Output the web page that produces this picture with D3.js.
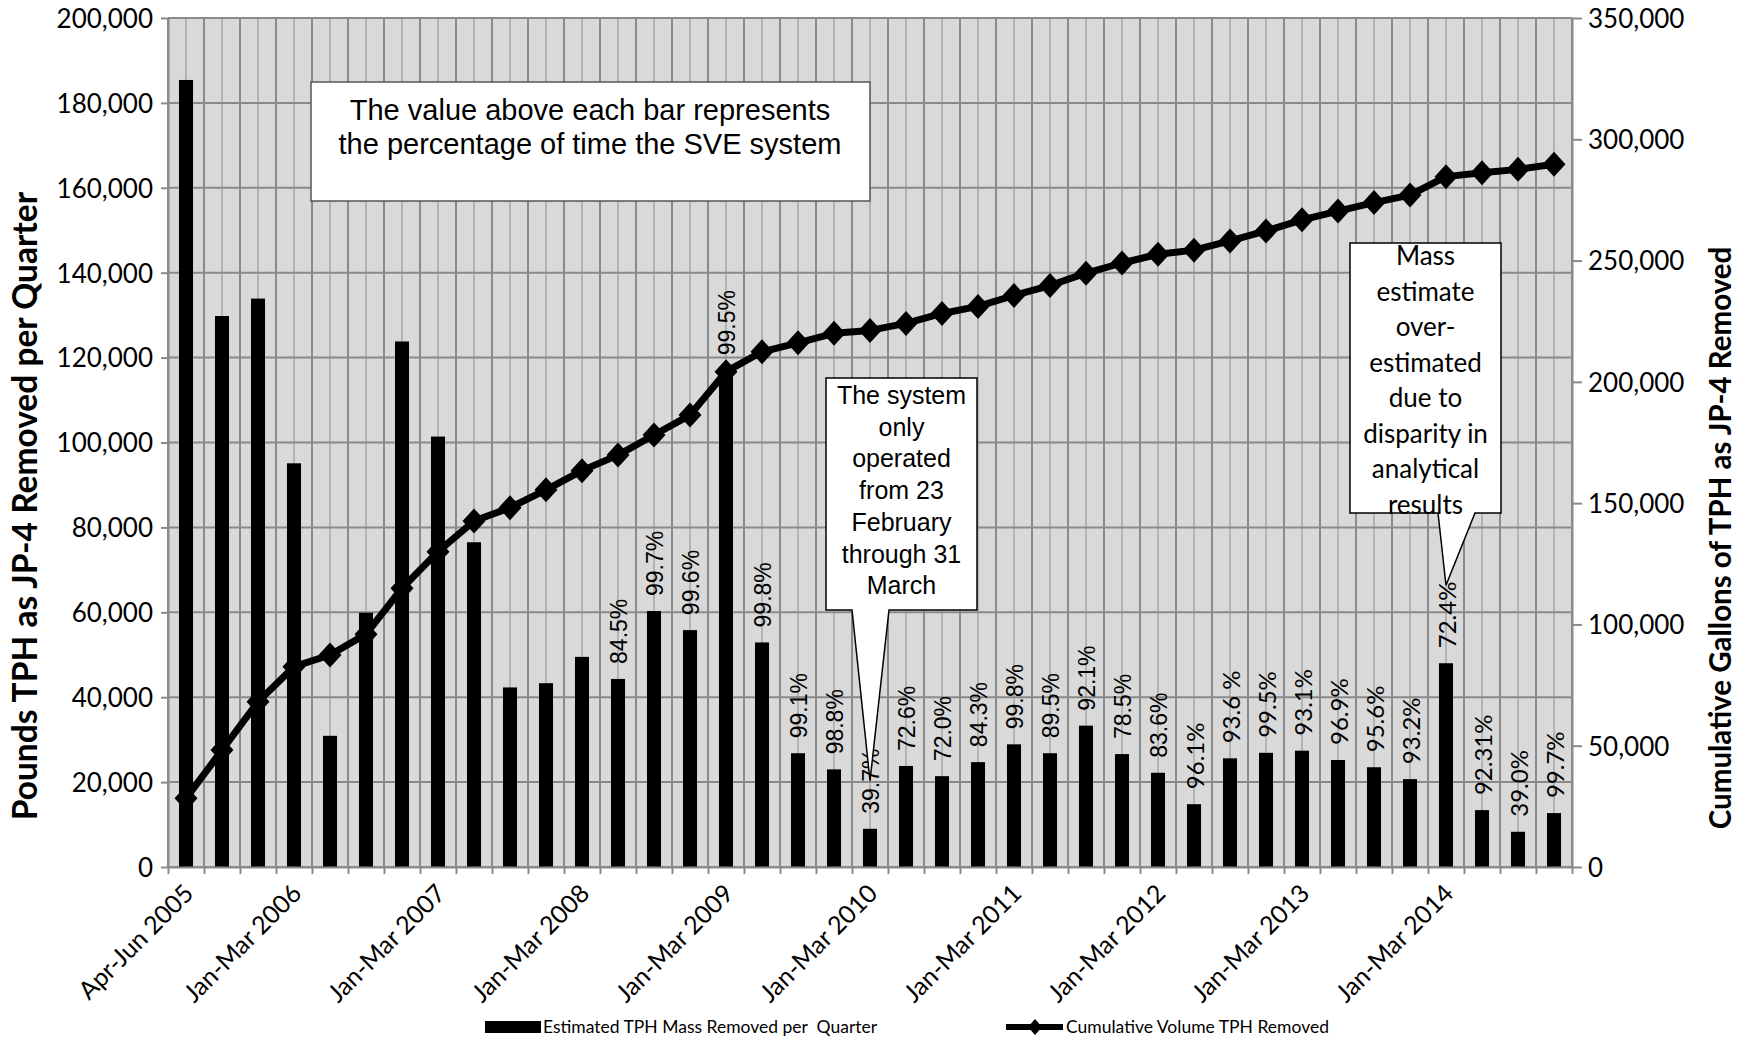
<!DOCTYPE html>
<html>
<head>
<meta charset="utf-8">
<script src="https://cdn.jsdelivr.net/npm/d3@7"></script>
<style>
  body { margin: 0; background: #ffffff; }
  svg { display: block; }
  .tick text { fill: #000; }
</style>
</head>
<body>
<svg id="chart" width="1750" height="1037"></svg>
<script>
// Quarterly SVE system performance, Apr-Jun 2005 through Oct-Dec 2014
const quarters = [
  "Apr-Jun 2005", "Jul-Sep 2005", "Oct-Dec 2005",
  "Jan-Mar 2006", "Apr-Jun 2006", "Jul-Sep 2006", "Oct-Dec 2006",
  "Jan-Mar 2007", "Apr-Jun 2007", "Jul-Sep 2007", "Oct-Dec 2007",
  "Jan-Mar 2008", "Apr-Jun 2008", "Jul-Sep 2008", "Oct-Dec 2008",
  "Jan-Mar 2009", "Apr-Jun 2009", "Jul-Sep 2009", "Oct-Dec 2009",
  "Jan-Mar 2010", "Apr-Jun 2010", "Jul-Sep 2010", "Oct-Dec 2010",
  "Jan-Mar 2011", "Apr-Jun 2011", "Jul-Sep 2011", "Oct-Dec 2011",
  "Jan-Mar 2012", "Apr-Jun 2012", "Jul-Sep 2012", "Oct-Dec 2012",
  "Jan-Mar 2013", "Apr-Jun 2013", "Jul-Sep 2013", "Oct-Dec 2013",
  "Jan-Mar 2014", "Apr-Jun 2014", "Jul-Sep 2014", "Oct-Dec 2014"
];

// Estimated TPH mass removed per quarter (pounds, left axis)
const massRemoved = [
  185400, 129800, 133900,
  95100, 30900, 59900, 123800,
  101400, 76500, 42300, 43300,
  49500, 44300, 60300, 55800,
  117000, 52900, 26800, 23000,
  9000, 23800, 21400, 24700,
  28900, 26800, 33300, 26600,
  22200, 14800, 25600, 26900,
  27400, 25200, 23500, 20700,
  48000, 13400, 8300, 12700
];

// Cumulative volume of TPH removed (gallons, right axis)
const cumulativeGallons = [
  28300, 48200, 68100,
  82600, 87400, 96000, 114900,
  130000, 142600, 148100, 155500,
  163400, 169800, 178100, 186300,
  204200, 212400, 216100, 220000,
  221200, 224100, 228200, 231100,
  235600, 239700, 244800, 249000,
  252600, 254300, 258100, 262200,
  266800, 270400, 273900, 277000,
  284600, 286200, 287600, 289700
];

// Percentage of time the SVE system operated during each quarter
const uptime = [
  null, null, null,
  null, null, null, null,
  null, null, null, null,
  null, "84.5%", "99.7%", "99.6%",
  "99.5%", "99.8%", "99.1%", "98.8%",
  "39.7%", "72.6%", "72.0%", "84.3%",
  "99.8%", "89.5%", "92.1%", "78.5%",
  "83.6%", "96.1%", "93.6 %", "99.5%",
  "93.1%", "96.9%", "95.6%", "93.2%",
  "72.4%", "92.31%", "39.0%", "99.7%"
];

const labelledQuarters = [
  "Apr-Jun 2005", "Jan-Mar 2006", "Jan-Mar 2007", "Jan-Mar 2008",
  "Jan-Mar 2009", "Jan-Mar 2010", "Jan-Mar 2011", "Jan-Mar 2012",
  "Jan-Mar 2013", "Jan-Mar 2014"
];

const leftTicks = [0, 20000, 40000, 60000, 80000, 100000, 120000, 140000, 160000, 180000, 200000];
const rightTicks = [0, 50000, 100000, 150000, 200000, 250000, 300000, 350000];

const noteText = ["The value above each bar represents", "the percentage of time the SVE system"];
const calloutLowRun = ["The system", "only", "operated", "from 23", "February", "through 31", "March"];
const calloutOverEstimate = ["Mass", "estimate", "over-", "estimated", "due to", "disparity in", "analytical", "results"];

const legendBars = "Estimated TPH Mass Removed per  Quarter";
const legendLine = "Cumulative Volume TPH Removed";
const leftTitle = "Pounds TPH as JP-4 Removed per Quarter";
const rightTitle = "Cumulative Gallons of TPH as JP-4 Removed";

// ---- layout ----
const plot = { left: 168, right: 1572, top: 18, bottom: 867 };
const sansCal = "Lato, 'Open Sans', sans-serif";
const sansArial = "'Liberation Sans', Arial, sans-serif";

const svg = d3.select("#chart");

const x = d3.scaleBand().domain(quarters).range([plot.left, plot.right]).padding(0);
const xEdge = d3.scaleLinear().domain([0, quarters.length]).range([plot.left, plot.right]);
const yL = d3.scaleLinear().domain([0, 200000]).range([plot.bottom, plot.top]);
const yR = d3.scaleLinear().domain([0, 350000]).range([plot.bottom, plot.top]);
const bw = x.bandwidth();
const barW = bw * 0.39;
const cx = q => x(q) + bw / 2;

// plot background
svg.append("rect")
  .attr("x", plot.left).attr("y", plot.top)
  .attr("width", plot.right - plot.left).attr("height", plot.bottom - plot.top)
  .attr("fill", "#d9d9d9");

// grid: light lines through category centres, darker ones on category edges
const grid = svg.append("g");
grid.selectAll("line.minor").data(quarters).join("line")
  .attr("x1", d => cx(d)).attr("x2", d => cx(d))
  .attr("y1", plot.top).attr("y2", plot.bottom)
  .attr("stroke", "#b3b3b3").attr("stroke-width", 2);
grid.selectAll("line.major").data(d3.range(quarters.length + 1)).join("line")
  .attr("x1", d => xEdge(d)).attr("x2", d => xEdge(d))
  .attr("y1", plot.top).attr("y2", plot.bottom)
  .attr("stroke", "#8a8a8a").attr("stroke-width", 2);
grid.selectAll("line.h").data(leftTicks).join("line")
  .attr("x1", plot.left).attr("x2", plot.right)
  .attr("y1", d => yL(d)).attr("y2", d => yL(d))
  .attr("stroke", "#8a8a8a").attr("stroke-width", 2);

// bars
svg.append("g").selectAll("rect").data(quarters).join("rect")
  .attr("x", (d) => cx(d) - barW / 2)
  .attr("width", barW)
  .attr("y", (d, i) => yL(massRemoved[i]))
  .attr("height", (d, i) => plot.bottom - yL(massRemoved[i]))
  .attr("fill", "#000");

// uptime labels above bars
svg.append("g").selectAll("text").data(quarters).join("text")
  .filter((d, i) => uptime[i] !== null)
  .attr("transform", (d) => {
    const i = quarters.indexOf(d);
    return `translate(${cx(d) + 1},${yL(massRemoved[i]) - 15}) rotate(-90)`;
  })
  .attr("dy", "0.36em")
  .attr("font-family", (d) => quarters.indexOf(d) >= 28 ? sansCal : sansArial)
  .attr("font-size", (d) => quarters.indexOf(d) >= 28 ? 24 : 23)
  .attr("fill", "#000")
  .text((d) => uptime[quarters.indexOf(d)]);

// axes
const axisStyle = g => {
  g.select(".domain").attr("stroke", "#8a8a8a").attr("stroke-width", 2);
  g.selectAll(".tick line").attr("stroke", "#8a8a8a").attr("stroke-width", 2);
  g.selectAll(".tick text").attr("font-family", sansCal).attr("font-size", 26);
};

svg.append("g")
  .attr("transform", `translate(${plot.left},0)`)
  .call(d3.axisLeft(yL).tickValues(leftTicks).tickSize(7).tickSizeOuter(0).tickPadding(8).tickFormat(d3.format(",")))
  .call(axisStyle)
  .call(g => g.selectAll(".tick text").attr("dy", "0.36em"));

svg.append("g")
  .attr("transform", `translate(${plot.right},0)`)
  .call(d3.axisRight(yR).tickValues(rightTicks).tickSize(10).tickSizeOuter(0).tickPadding(6).tickFormat(d3.format(",")))
  .call(axisStyle)
  .call(g => g.selectAll(".tick text").attr("dy", "0.36em"));

svg.append("g")
  .attr("transform", `translate(0,${plot.bottom})`)
  .call(d3.axisBottom(xEdge).tickValues(d3.range(quarters.length + 1)).tickSize(7).tickSizeOuter(0).tickFormat(""))
  .call(axisStyle);

svg.append("g")
  .attr("transform", `translate(0,${plot.bottom})`)
  .call(d3.axisBottom(x).tickValues(labelledQuarters).tickSize(0).tickSizeOuter(0))
  .call(g => g.select(".domain").remove())
  .call(g => g.selectAll(".tick text")
    .attr("font-family", sansCal).attr("font-size", 25)
    .attr("x", 0).attr("y", 0).attr("dy", 0)
    .attr("text-anchor", "end")
    .attr("transform", "translate(9,28) rotate(-45)"));

// plot frame top edge
svg.append("line")
  .attr("x1", plot.left).attr("x2", plot.right)
  .attr("y1", plot.top).attr("y2", plot.top)
  .attr("stroke", "#8a8a8a").attr("stroke-width", 2);

// cumulative line with diamond markers
const line = d3.line()
  .x((d, i) => cx(quarters[i]))
  .y(d => yR(d));
svg.append("path")
  .datum(cumulativeGallons)
  .attr("d", line)
  .attr("fill", "none").attr("stroke", "#000").attr("stroke-width", 7)
  .attr("stroke-linejoin", "round");
const diamond = "M0,-12.5L11.5,0L0,12.5L-11.5,0Z";
svg.append("g").selectAll("path").data(cumulativeGallons).join("path")
  .attr("d", diamond)
  .attr("transform", (d, i) => `translate(${cx(quarters[i])},${yR(d)})`)
  .attr("fill", "#000");

// explanatory note box
const note = svg.append("g");
note.append("rect")
  .attr("x", 311).attr("y", 82).attr("width", 559).attr("height", 119)
  .attr("fill", "#fff").attr("stroke", "#555").attr("stroke-width", 1.5);
note.selectAll("text").data(noteText).join("text")
  .attr("x", 590).attr("y", (d, i) => 120 + i * 34)
  .attr("text-anchor", "middle")
  .attr("font-family", sansArial).attr("font-size", 29)
  .attr("fill", "#000")
  .text(d => d);

// callout boxes with pointers toward the relevant bars
function callout(box, tip, baseL, baseR, lines, font, size, firstBaseline, spacing) {
  const g = svg.append("g");
  const path = `M${box.x0},${box.y0}H${box.x1}V${box.y1}H${baseR}L${tip[0]},${tip[1]}L${baseL},${box.y1}H${box.x0}Z`;
  g.append("path").attr("d", path)
    .attr("fill", "#fff").attr("stroke", "#000").attr("stroke-width", 1.5);
  g.selectAll("text").data(lines).join("text")
    .attr("x", (box.x0 + box.x1) / 2)
    .attr("y", (d, i) => firstBaseline + i * spacing)
    .attr("text-anchor", "middle")
    .attr("font-family", font).attr("font-size", size)
    .attr("fill", "#000")
    .text(d => d);
}

const q1 = quarters.indexOf("Jan-Mar 2010");
callout({ x0: 826, y0: 378, x1: 977, y1: 610 },
  [cx(quarters[q1]), yL(massRemoved[q1]) - 48], 852, 889,
  calloutLowRun, sansArial, 25, 404, 31.7);

const q2 = quarters.indexOf("Jan-Mar 2014");
callout({ x0: 1350, y0: 243, x1: 1501, y1: 513 },
  [cx(quarters[q2]), yL(massRemoved[q2]) - 78], 1438, 1475,
  calloutOverEstimate, sansCal, 26, 265, 35.5);

// axis titles
svg.append("text")
  .attr("transform", `translate(37,506) rotate(-90)`)
  .attr("text-anchor", "middle")
  .attr("font-family", sansCal).attr("font-weight", 700).attr("font-size", 33.5)
  .attr("fill", "#000")
  .text(leftTitle);

svg.append("text")
  .attr("transform", `translate(1731,538) rotate(-90)`)
  .attr("text-anchor", "middle")
  .attr("font-family", sansCal).attr("font-weight", 700).attr("font-size", 29.5)
  .attr("fill", "#000")
  .text(rightTitle);

// legend
const legend = svg.append("g").attr("font-family", sansCal).attr("font-size", 17.5).attr("fill", "#000");
legend.append("rect").attr("x", 485).attr("y", 1021).attr("width", 56).attr("height", 12).attr("fill", "#000");
legend.append("text").attr("x", 543).attr("y", 1027).attr("dy", "0.35em")
  .style("white-space", "pre").text(legendBars);
legend.append("line").attr("x1", 1006).attr("x2", 1063).attr("y1", 1027).attr("y2", 1027)
  .attr("stroke", "#000").attr("stroke-width", 6);
legend.append("path").attr("d", "M0,-8L7,0L0,8L-7,0Z")
  .attr("transform", "translate(1035,1027)").attr("fill", "#000");
legend.append("text").attr("x", 1066).attr("y", 1027).attr("dy", "0.35em")
  .text(legendLine);
</script>
</body>
</html>
